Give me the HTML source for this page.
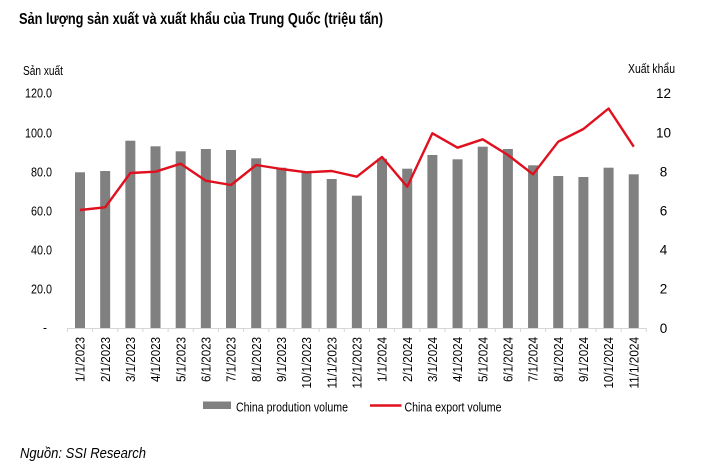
<!DOCTYPE html>
<html><head><meta charset="utf-8"><style>
html,body{margin:0;padding:0;background:#fff;}
svg{display:block;}
text{font-family:"Liberation Sans",Arial,sans-serif;fill:#000;}
</style></head><body>
<svg width="710" height="469" viewBox="0 0 710 469" xmlns="http://www.w3.org/2000/svg">
<text x="19" y="24" font-size="16" font-weight="bold" textLength="364" lengthAdjust="spacingAndGlyphs">Sản lượng sản xuất và xuất khẩu của Trung Quốc (triệu tấn)</text>
<text x="23" y="75" font-size="12.5" textLength="40" lengthAdjust="spacingAndGlyphs">Sản xuất</text>
<text x="628" y="73" font-size="12.5" textLength="47" lengthAdjust="spacingAndGlyphs">Xuất khẩu</text>
<g font-size="13">
<text x="25" y="97.5" textLength="27" lengthAdjust="spacingAndGlyphs">120.0</text>
<text x="25" y="137.5" textLength="27" lengthAdjust="spacingAndGlyphs">100.0</text>
<text x="31" y="176.5" textLength="21" lengthAdjust="spacingAndGlyphs">80.0</text>
<text x="31" y="215.5" textLength="21" lengthAdjust="spacingAndGlyphs">60.0</text>
<text x="31" y="254.5" textLength="21" lengthAdjust="spacingAndGlyphs">40.0</text>
<text x="31" y="293.5" textLength="21" lengthAdjust="spacingAndGlyphs">20.0</text>
<text x="43" y="332" textLength="4" lengthAdjust="spacingAndGlyphs">-</text>
</g>
<g font-size="13.5" text-anchor="middle">
<text x="663.5" y="98">12</text>
<text x="663.5" y="137.5">10</text>
<text x="663.5" y="176.5">8</text>
<text x="663.5" y="215.5">6</text>
<text x="663.5" y="254.5">4</text>
<text x="663.5" y="293.5">2</text>
<text x="663.5" y="333">0</text>
</g>
<g fill="#808080">
<rect x="75" y="172.3" width="10" height="155.7"/>
<rect x="100.17" y="171" width="10" height="157"/>
<rect x="125.34" y="140.7" width="10" height="187.3"/>
<rect x="150.51" y="146.3" width="10" height="181.7"/>
<rect x="175.68" y="151.3" width="10" height="176.7"/>
<rect x="200.85" y="149" width="10" height="179"/>
<rect x="226.02" y="150" width="10" height="178"/>
<rect x="251.19" y="158.3" width="10" height="169.7"/>
<rect x="276.36" y="167.7" width="10" height="160.3"/>
<rect x="301.53" y="171.7" width="10" height="156.3"/>
<rect x="326.7" y="179" width="10" height="149"/>
<rect x="351.87" y="195.7" width="10" height="132.3"/>
<rect x="377.04" y="158.7" width="10" height="169.3"/>
<rect x="402.21" y="168.7" width="10" height="159.3"/>
<rect x="427.38" y="155" width="10" height="173"/>
<rect x="452.55" y="159.3" width="10" height="168.7"/>
<rect x="477.72" y="146.7" width="10" height="181.3"/>
<rect x="502.89" y="149" width="10" height="179"/>
<rect x="528.06" y="165.3" width="10" height="162.7"/>
<rect x="553.23" y="176" width="10" height="152"/>
<rect x="578.4" y="177" width="10" height="151"/>
<rect x="603.57" y="167.7" width="10" height="160.3"/>
<rect x="628.74" y="174.3" width="10" height="153.7"/>
</g>
<g stroke="#d6d6d6" stroke-width="1">
<line x1="67" y1="328.5" x2="646.5" y2="328.5"/>
<path d="M67.4 328v4 M92.6 328v4 M117.8 328v4 M142.9 328v4 M168.1 328v4 M193.3 328v4 M218.4 328v4 M243.6 328v4 M268.8 328v4 M293.9 328v4 M319.1 328v4 M344.3 328v4 M369.5 328v4 M394.6 328v4 M419.8 328v4 M445 328v4 M470.1 328v4 M495.3 328v4 M520.5 328v4 M545.6 328v4 M570.8 328v4 M596 328v4 M621.2 328v4 M646.3 328v4"/>
</g>
<polyline fill="none" stroke="#e0101e" stroke-width="2.4" stroke-linejoin="round" points="80,210 105.17,207.3 130.34,173 155.51,171.7 180.68,163.7 205.85,180.7 231.02,185 256.19,165 281.36,169 306.53,172.3 331.7,171 356.87,176.7 382.04,157 407.21,186.7 432.38,133.3 457.55,147.7 482.72,139.3 507.89,155 533.06,174.3 558.23,141.7 583.4,129 608.57,108.5 633.74,146.7"/>
<g font-size="13" text-anchor="end">
<text transform="translate(80,337) rotate(-90)" y="4.6" textLength="45" lengthAdjust="spacingAndGlyphs">1/1/2023</text>
<text transform="translate(105.17,337) rotate(-90)" y="4.6" textLength="45" lengthAdjust="spacingAndGlyphs">2/1/2023</text>
<text transform="translate(130.34,337) rotate(-90)" y="4.6" textLength="45" lengthAdjust="spacingAndGlyphs">3/1/2023</text>
<text transform="translate(155.51,337) rotate(-90)" y="4.6" textLength="45" lengthAdjust="spacingAndGlyphs">4/1/2023</text>
<text transform="translate(180.68,337) rotate(-90)" y="4.6" textLength="45" lengthAdjust="spacingAndGlyphs">5/1/2023</text>
<text transform="translate(205.85,337) rotate(-90)" y="4.6" textLength="45" lengthAdjust="spacingAndGlyphs">6/1/2023</text>
<text transform="translate(231.02,337) rotate(-90)" y="4.6" textLength="45" lengthAdjust="spacingAndGlyphs">7/1/2023</text>
<text transform="translate(256.19,337) rotate(-90)" y="4.6" textLength="45" lengthAdjust="spacingAndGlyphs">8/1/2023</text>
<text transform="translate(281.36,337) rotate(-90)" y="4.6" textLength="45" lengthAdjust="spacingAndGlyphs">9/1/2023</text>
<text transform="translate(306.53,337) rotate(-90)" y="4.6" textLength="51.5" lengthAdjust="spacingAndGlyphs">10/1/2023</text>
<text transform="translate(331.7,337) rotate(-90)" y="4.6" textLength="51.5" lengthAdjust="spacingAndGlyphs">11/1/2023</text>
<text transform="translate(356.87,337) rotate(-90)" y="4.6" textLength="51.5" lengthAdjust="spacingAndGlyphs">12/1/2023</text>
<text transform="translate(382.04,337) rotate(-90)" y="4.6" textLength="45" lengthAdjust="spacingAndGlyphs">1/1/2024</text>
<text transform="translate(407.21,337) rotate(-90)" y="4.6" textLength="45" lengthAdjust="spacingAndGlyphs">2/1/2024</text>
<text transform="translate(432.38,337) rotate(-90)" y="4.6" textLength="45" lengthAdjust="spacingAndGlyphs">3/1/2024</text>
<text transform="translate(457.55,337) rotate(-90)" y="4.6" textLength="45" lengthAdjust="spacingAndGlyphs">4/1/2024</text>
<text transform="translate(482.72,337) rotate(-90)" y="4.6" textLength="45" lengthAdjust="spacingAndGlyphs">5/1/2024</text>
<text transform="translate(507.89,337) rotate(-90)" y="4.6" textLength="45" lengthAdjust="spacingAndGlyphs">6/1/2024</text>
<text transform="translate(533.06,337) rotate(-90)" y="4.6" textLength="45" lengthAdjust="spacingAndGlyphs">7/1/2024</text>
<text transform="translate(558.23,337) rotate(-90)" y="4.6" textLength="45" lengthAdjust="spacingAndGlyphs">8/1/2024</text>
<text transform="translate(583.4,337) rotate(-90)" y="4.6" textLength="45" lengthAdjust="spacingAndGlyphs">9/1/2024</text>
<text transform="translate(608.57,337) rotate(-90)" y="4.6" textLength="51.5" lengthAdjust="spacingAndGlyphs">10/1/2024</text>
<text transform="translate(633.74,337) rotate(-90)" y="4.6" textLength="51.5" lengthAdjust="spacingAndGlyphs">11/1/2024</text>
</g>
<rect x="203" y="401.5" width="28" height="7.5" fill="#808080"/>
<text x="236" y="411.5" font-size="13" textLength="112" lengthAdjust="spacingAndGlyphs">China prodution volume</text>
<line x1="370" y1="405.5" x2="401.5" y2="405.5" stroke="#e0101e" stroke-width="2.4"/>
<text x="404.5" y="411.5" font-size="13" textLength="97" lengthAdjust="spacingAndGlyphs">China export volume</text>
<text x="20" y="458" font-size="14.5" font-style="italic" textLength="126" lengthAdjust="spacingAndGlyphs">Nguồn: SSI Research</text>
</svg>
</body></html>
